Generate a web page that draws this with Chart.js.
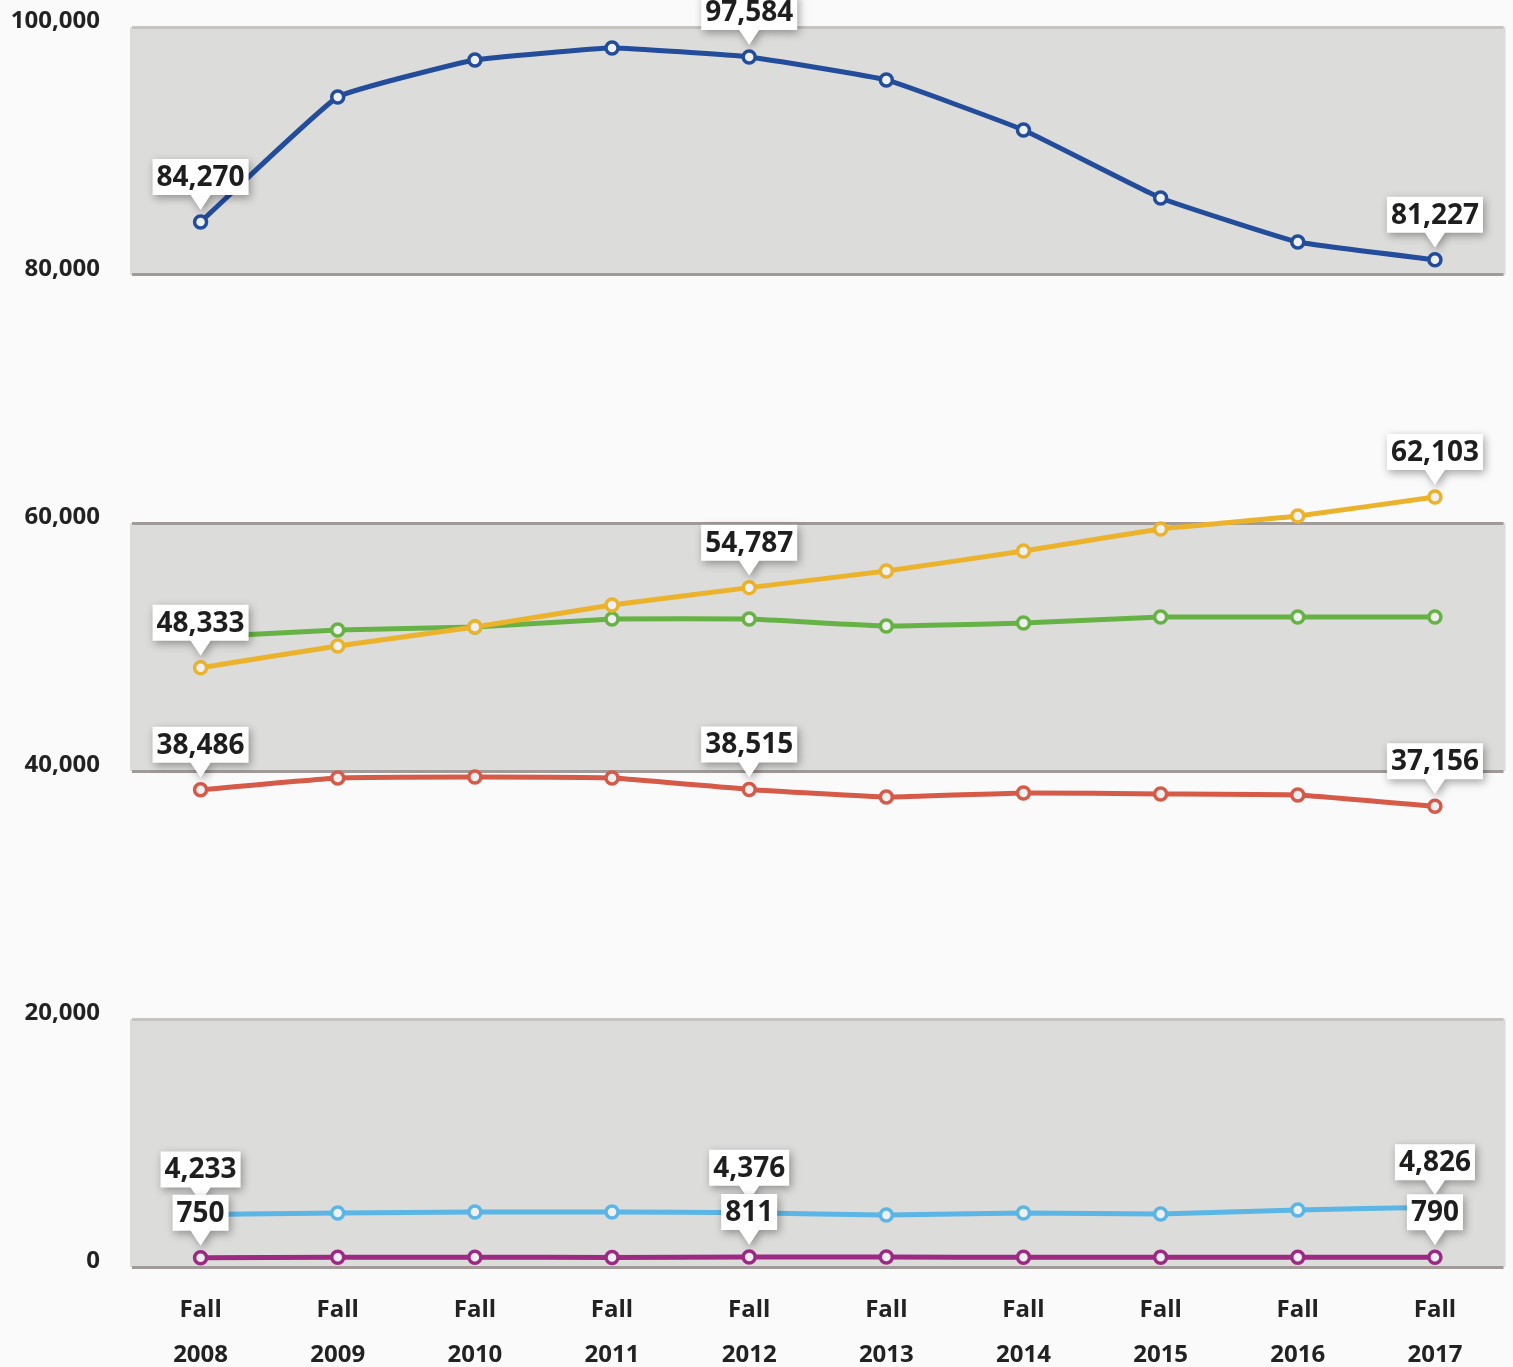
<!DOCTYPE html>
<html>
<head>
<meta charset="utf-8">
<script src="https://cdn.jsdelivr.net/npm/chart.js@4.4.1/dist/chart.umd.min.js"></script>
<style>
  html, body { margin: 0; padding: 0; background: #fafafa; }
  #wrap { width: 1513px; height: 1367px; }
</style>
</head>
<body>
<div id="wrap"><canvas id="enrollChart"></canvas></div>
<script>
// Data
const categories = [['Fall', '2008'], ['Fall', '2009'], ['Fall', '2010'], ['Fall', '2011'], ['Fall', '2012'],
  ['Fall', '2013'], ['Fall', '2014'], ['Fall', '2015'], ['Fall', '2016'], ['Fall', '2017']];
const blueValues = [84270, 94355, 97340, 98300, 97584, 95730, 91690, 86210, 82660, 81227];
const yellowValues = [48333, 50080, 51610, 53390, 54787, 56130, 57740, 59520, 60560, 62103];
const greenValues = [50800, 51370, 51610, 52260, 52260, 51690, 51930, 52420, 52420, 52420];
const redValues = [38486, 39430, 39510, 39430, 38515, 37900, 38230, 38150, 38070, 37156];
const lightBlueValues = [4233, 4350, 4430, 4430, 4376, 4190, 4350, 4270, 4600, 4826];
const purpleValues = [750, 780, 790, 770, 811, 800, 790, 790, 780, 790];
const labelledPoints = [0, 4, 9];
const yTicks = [0, 20000, 40000, 60000, 80000, 100000];

document.addEventListener("DOMContentLoaded", function () {
  const ctx = document.getElementById('enrollChart').getContext('2d');

  // Alternating grey bands behind the plot
  const bandPlugin = {
    id: 'bands',
    beforeDraw(chart) {
      const c = chart.ctx;
      const y = chart.scales.y;
      const area = chart.chartArea;
      c.save();
      c.fillStyle = '#fafafa';
      c.fillRect(0, 0, chart.width, chart.height);
      c.fillStyle = '#dcdcdb';
      for (let i = 0; i < yTicks.length - 1; i += 2) {
        const top = y.getPixelForValue(yTicks[i + 1]);
        const bottom = y.getPixelForValue(yTicks[i]);
        c.fillRect(area.left - 2, top, area.right - area.left + 4, bottom - top);
      }
      c.restore();
    }
  };

  // White callout boxes above chosen points
  const calloutPlugin = {
    id: 'callouts',
    afterDatasetsDraw(chart) {
      const c = chart.ctx;
      c.save();
      c.font = "bold 28px 'Open Sans', sans-serif";
      c.textAlign = 'center';
      c.textBaseline = 'middle';
      chart.data.datasets.forEach((ds, di) => {
        if (!ds.callouts) return;
        const meta = chart.getDatasetMeta(di);
        labelledPoints.forEach(i => {
          const pt = meta.data[i];
          const text = ds.data[i].toLocaleString('en-US');
          const w = c.measureText(text).width + 8;
          const h = 36;
          const tipY = pt.y - 12;
          const boxBottom = tipY - 15;
          const boxTop = boxBottom - h;
          c.save();
          c.shadowColor = 'rgba(0,0,0,0.35)';
          c.shadowBlur = 8;
          c.shadowOffsetX = 2;
          c.shadowOffsetY = 3;
          c.fillStyle = '#ffffff';
          c.beginPath();
          c.moveTo(pt.x - w / 2, boxTop);
          c.lineTo(pt.x + w / 2, boxTop);
          c.lineTo(pt.x + w / 2, boxBottom);
          c.lineTo(pt.x + 10, boxBottom);
          c.lineTo(pt.x, tipY);
          c.lineTo(pt.x - 10, boxBottom);
          c.lineTo(pt.x - w / 2, boxBottom);
          c.closePath();
          c.fill();
          c.restore();
          c.fillStyle = '#1e1e1e';
          c.fillText(text, pt.x, boxTop + h / 2 + 1);
        });
      });
      c.restore();
    }
  };

  function series(data, color, callouts) {
    return {
      data: data,
      borderColor: color,
      backgroundColor: '#eef0f2',
      pointBackgroundColor: '#eef0f2',
      pointBorderColor: color,
      borderWidth: 5,
      pointRadius: 6,
      pointBorderWidth: 3.5,
      tension: 0.1,
      clip: false,
      callouts: callouts
    };
  }

  new Chart(ctx, {
    type: 'line',
    data: {
      labels: categories,
      datasets: [
        series(blueValues, '#234c9b', true),
        series(yellowValues, '#ebb22c', true),
        series(greenValues, '#67b244', false),
        series(redValues, '#d65a48', true),
        series(lightBlueValues, '#5bb5e5', true),
        series(purpleValues, '#9c2a82', true)
      ]
    },
    options: {
      responsive: true,
      maintainAspectRatio: false,
      animation: false,
      layout: { padding: { top: 27, right: 8, left: 0, bottom: 0 } },
      plugins: {
        legend: { display: false },
        tooltip: { enabled: false }
      },
      scales: {
        y: {
          min: 0,
          max: 100000,
          afterFit(scale) {
            scale.width = 132;
            scale.paddingTop = 0;
            scale.paddingBottom = 0;
          },
          afterBuildTicks(scale) { scale.ticks = yTicks.map(v => ({ value: v })); },
          border: { display: false },
          grid: {
            drawTicks: false,
            lineWidth: 3,
            color(c) {
              const v = c.tick.value;
              return (v === 100000 || v === 20000) ? '#c6c4c3' : '#a09b99';
            }
          },
          ticks: {
            padding: 32,
            labelOffset: -6,
            color: '#222',
            font: { family: "'Open Sans', sans-serif", size: 24, weight: 'bold' },
            callback: v => v.toLocaleString('en-US')
          }
        },
        x: {
          offset: true,
          afterFit(scale) { scale.height = 100; },
          border: { display: false },
          grid: { display: false, drawTicks: false },
          ticks: {
            padding: 20,
            maxRotation: 0,
            color: '#222',
            font: { family: "'Open Sans', sans-serif", size: 24, weight: 'bold', lineHeight: 1.9 }
          }
        }
      }
    },
    plugins: [bandPlugin, calloutPlugin]
  });
});
</script>
</body>
</html>
